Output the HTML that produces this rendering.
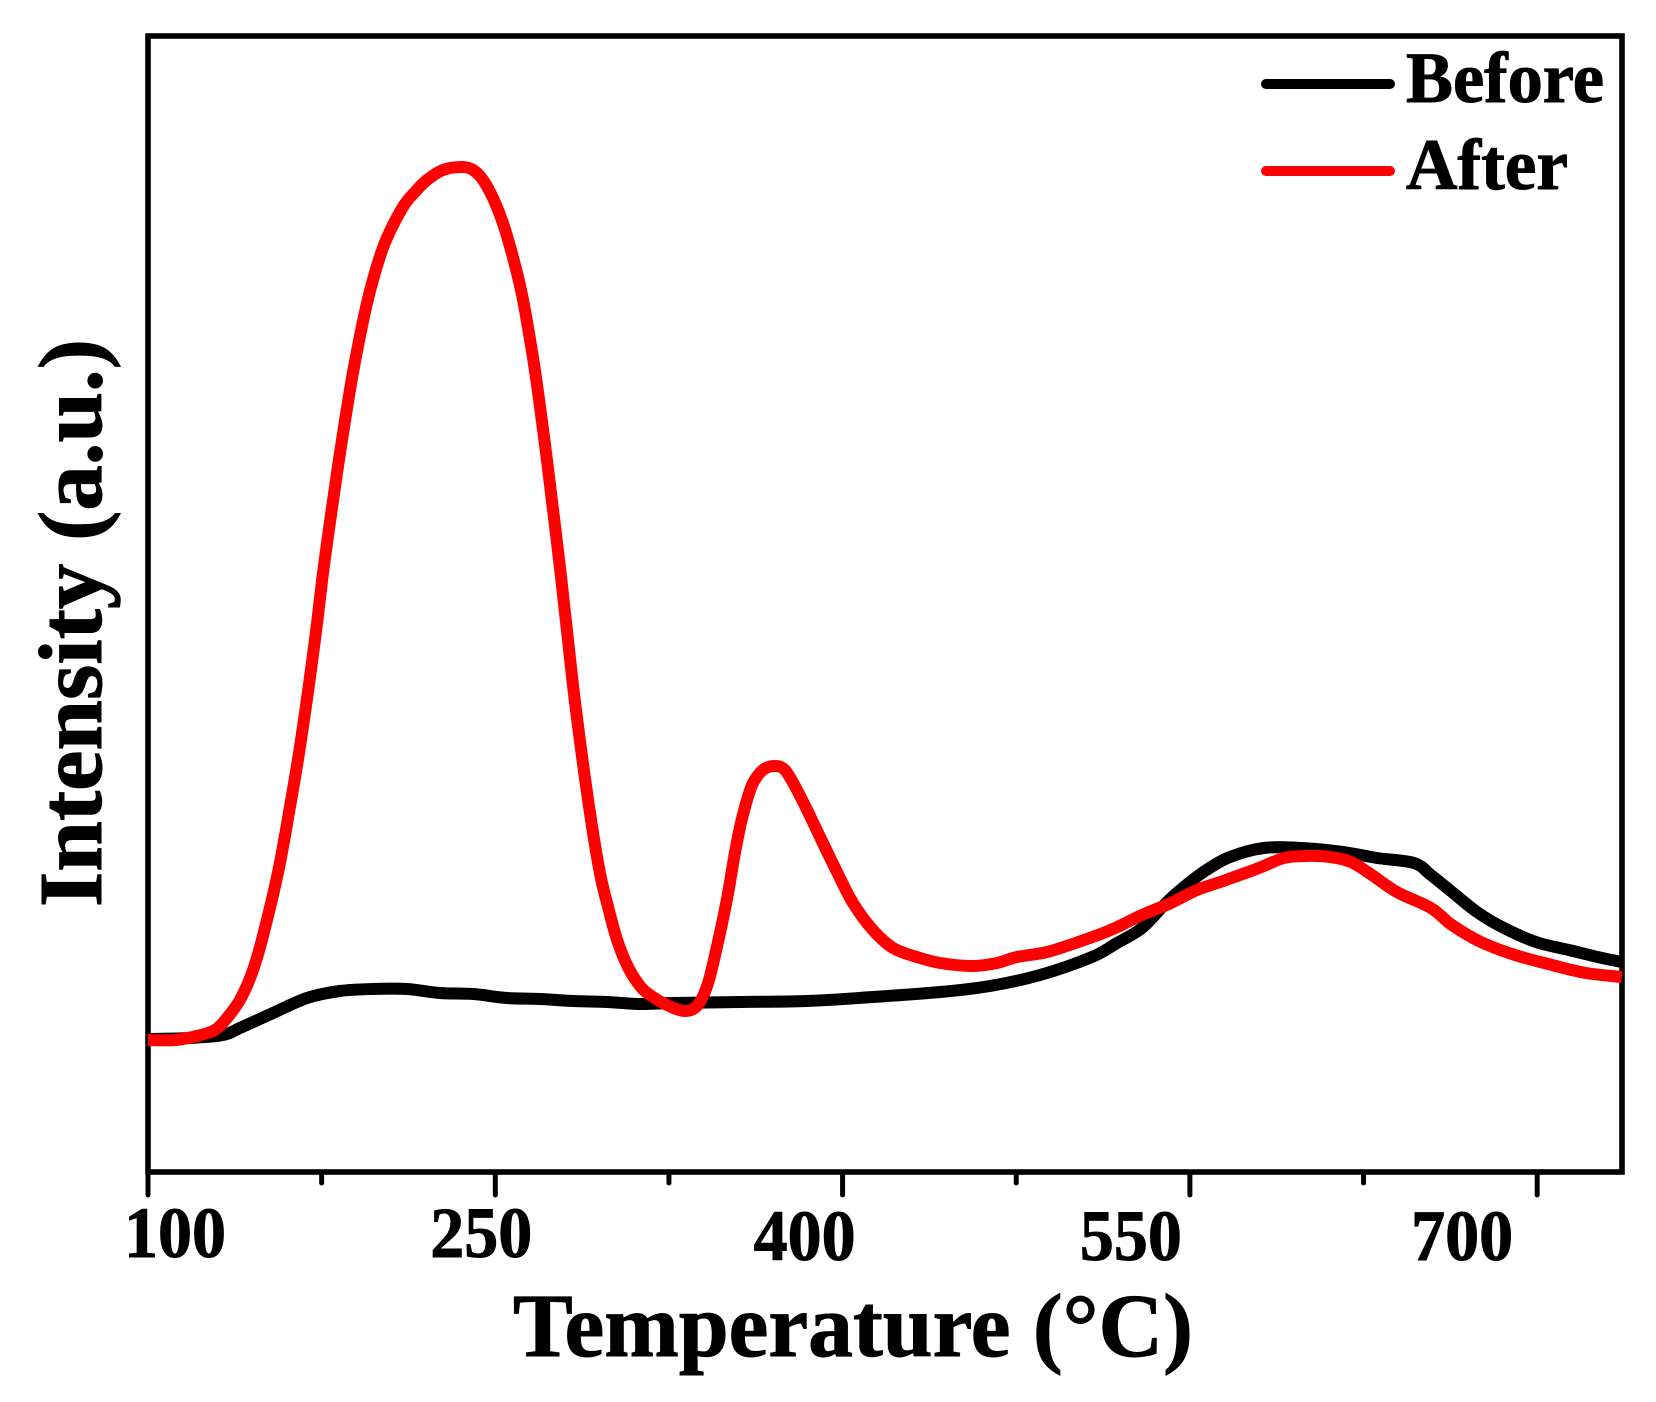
<!DOCTYPE html>
<html lang="en">
<head>
<meta charset="utf-8">
<title>Intensity vs Temperature</title>
<style>
html,body{margin:0;padding:0;background:#fff;width:1656px;height:1402px;overflow:hidden}
svg{display:block}
text{font-family:"Liberation Serif",serif;font-weight:bold;fill:#000;stroke:#000;stroke-width:1}
</style>
</head>
<body>
<svg id="chart" width="1656" height="1402" viewBox="0 0 1656 1402" xmlns="http://www.w3.org/2000/svg">
  <rect x="0" y="0" width="1656" height="1402" fill="#fff"/>
  <g id="ticks"></g>
  <g id="tick-labels"></g>
  <rect x="148" y="36" width="1474" height="1136" fill="none" stroke="#000" stroke-width="5.6"/>
  <g id="series"></g>
  <text x="513" y="1356" font-size="90" textLength="680" lengthAdjust="spacingAndGlyphs">Temperature (°C)</text>
  <text transform="translate(101 907) rotate(-90)" x="0" y="0" font-size="90" textLength="568" lengthAdjust="spacingAndGlyphs">Intensity (a.u.)</text>
  <g>
    <line x1="1266" y1="84" x2="1390" y2="84" stroke="#000" stroke-width="10" stroke-linecap="round"/>
    <text x="1406" y="102" font-size="72" textLength="198" lengthAdjust="spacingAndGlyphs">Before</text>
    <line x1="1266" y1="171" x2="1390" y2="171" stroke="#f00" stroke-width="10" stroke-linecap="round"/>
    <text x="1406" y="189" font-size="72" textLength="162" lengthAdjust="spacingAndGlyphs">After</text>
  </g>
</svg>
<script>
const majorTicks = [100, 250, 400, 550, 700];
const minorTicks = [175, 325, 475, 625];
const tempBefore = [100,118.1,132.4,139.7,154,168.7,182.9,197.2,211.9,226.1,240.4,255.1,269.3,283.6,298.2,312.5,326.7,355.7,384.6,413.1,442.1,463.7,485.3,507.7,518.5,529.3,540.1,547.4,556.5,567.3,582,598,616.1,630.8,646.8,654.1,663.2,674,684.8,699.5,715.5,728,736.6];
const intensityBefore = [133,134,137,144,159,174,181,183,183,179,178,174,173,171,170,168,169,170,171,175,180,186,197,215,229,244,270,285,301,315,324,324,320,314,309,297,280,260,245,230,221,214,210];
const tempAfter = [100,111.7,121.2,128.9,134.1,139.7,144.9,149.2,156.1,161.3,166.1,172.1,175.6,179.5,183.8,188.5,194.2,198,202.8,210.1,215.3,220.5,227.4,235.6,240.4,244.7,249.4,253.3,257.6,261.1,263.8,267.3,271.2,274.8,278.2,281.4,284.7,290.5,295.2,298.7,302.6,307.3,312.5,316.8,324.2,331.9,337.5,341.9,345.7,350,353.5,356.1,358.7,361.3,365.6,370.4,375.1,380.3,385.1,391.5,397.6,404.5,413.1,421.8,432.1,442.1,456.3,466.7,475.3,488.3,504.3,516.8,529.3,541.8,553.1,565.6,579.8,590.6,599.7,610.5,619.6,628.6,639.4,654.1,663.2,675.7,690.4,706.4,721.1,736.6];
const intensityAfter = [132,132,136,142,154,172,199,232,299,365,432,532,599,665,732,799,865,899,932,965,980,992,1002,1005,1002,992,972,949,915,882,849,799,732,665,599,532,465,365,299,265,232,205,186,177,167,161,167,189,225,272,319,349,372,389,402,406,402,382,360,329,300,269,242,224,215,209,206,209,215,220,232,243,257,269,282,292,304,314,316,315,310,297,280,264,247,230,217,207,199,195];

const svgNS = 'http://www.w3.org/2000/svg';
const xScale = t => 148 + (t - 100) * 2.3153;
const yScale = v => 1172 - v;
function labelX(t) {
  const nudge = {100: 27, 250: -14, 400: -38, 550: -59, 700: -75};
  return xScale(t) + (nudge[t] || 0);
}
const labelY = t => (t >= 400 ? 1260 : 1257);

function smoothPath(xs, ys) {
  const p = xs.map((t, i) => [xScale(t), yScale(ys[i])]);
  let d = 'M' + p[0][0].toFixed(1) + ' ' + p[0][1].toFixed(1);
  for (let i = 0; i < p.length - 1; i++) {
    const a = p[Math.max(i - 1, 0)], b = p[i], c = p[i + 1], e = p[Math.min(i + 2, p.length - 1)];
    const c1x = b[0] + (c[0] - a[0]) / 6, c1y = b[1] + (c[1] - a[1]) / 6;
    const c2x = c[0] - (e[0] - b[0]) / 6, c2y = c[1] - (e[1] - b[1]) / 6;
    d += 'C' + c1x.toFixed(1) + ' ' + c1y.toFixed(1) + ' ' + c2x.toFixed(1) + ' ' + c2y.toFixed(1) + ' ' + c[0].toFixed(1) + ' ' + c[1].toFixed(1);
  }
  return d;
}

const tickGroup = document.getElementById('ticks');
majorTicks.forEach(t => {
  const el = document.createElementNS(svgNS, 'line');
  
  
  el.setAttribute('x1', xScale(t));
  el.setAttribute('x2', xScale(t));
  el.setAttribute('y1', 1172);
  el.setAttribute('y2', 1195);
  el.setAttribute('stroke', '#000');
  el.setAttribute('stroke-width', 5);
  el.setAttribute('stroke-linecap', 'round');
  tickGroup.appendChild(el);
});
minorTicks.forEach(t => {
  const el = document.createElementNS(svgNS, 'line');
  
  
  el.setAttribute('x1', xScale(t));
  el.setAttribute('x2', xScale(t));
  el.setAttribute('y1', 1172);
  el.setAttribute('y2', 1183);
  el.setAttribute('stroke', '#000');
  el.setAttribute('stroke-width', 5);
  el.setAttribute('stroke-linecap', 'round');
  tickGroup.appendChild(el);
});

const labelGroup = document.getElementById('tick-labels');
majorTicks.forEach(t => {
  const el = document.createElementNS(svgNS, 'text');
  
  
  el.setAttribute('x', labelX(t) - 51);
  el.setAttribute('y', labelY(t));
  el.setAttribute('font-size', 72);
  el.setAttribute('textLength', 102);
  el.setAttribute('lengthAdjust', 'spacingAndGlyphs');
  el.textContent = String(t);
  labelGroup.appendChild(el);
});

const seriesGroup = document.getElementById('series');
const beforeLine = document.createElementNS(svgNS, 'path');


beforeLine.setAttribute('d', smoothPath(tempBefore, intensityBefore));
beforeLine.setAttribute('fill', 'none');
beforeLine.setAttribute('stroke', '#000');
beforeLine.setAttribute('stroke-width', 12);
beforeLine.setAttribute('stroke-linejoin', 'round');
seriesGroup.appendChild(beforeLine);

const afterLine = document.createElementNS(svgNS, 'path');


afterLine.setAttribute('d', smoothPath(tempAfter, intensityAfter));
afterLine.setAttribute('fill', 'none');
afterLine.setAttribute('stroke', '#f00');
afterLine.setAttribute('stroke-width', 12);
afterLine.setAttribute('stroke-linejoin', 'round');
seriesGroup.appendChild(afterLine);
</script>
</body>
</html>
